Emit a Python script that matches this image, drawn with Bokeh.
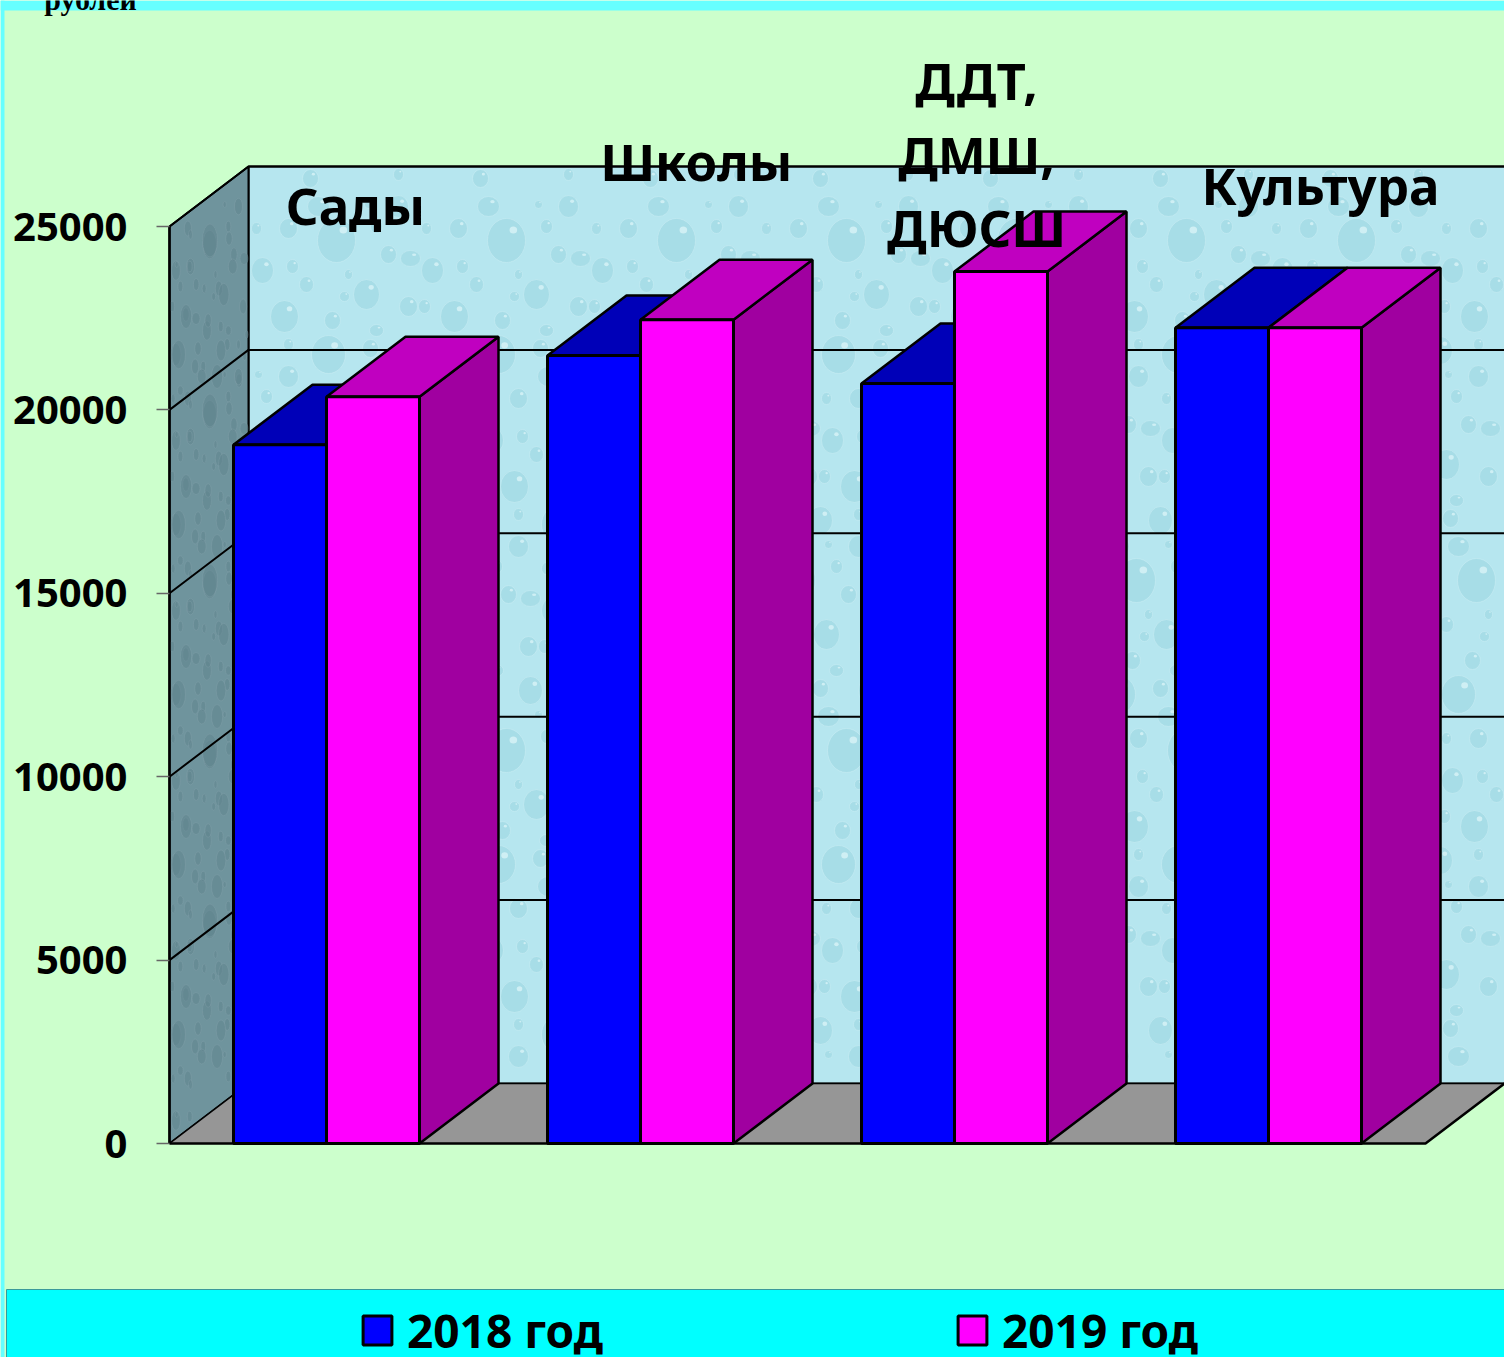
from bokeh.plotting import figure
from bokeh.embed import file_html
from bokeh.resources import INLINE
from bokeh.models import Range1d, LinearAxis, FixedTicker, Legend, LegendItem
from bokeh.core.properties import value

# ---- data ----
categories = ["Сады", "Школы", "ДДТ,\nДМШ,\nДЮСШ", "Культура"]
series_names = ["2018 год", "2019 год"]
values_2018 = [19050, 21480, 20720, 22240]
values_2019 = [20360, 22460, 23770, 22240]
tick_values = [0, 5000, 10000, 15000, 20000, 25000]

# ---- layout (picture pixels) ----
W, H = 1504, 1357
Y0 = 1143            # pixel of value 0 at the front plane
PX_PER_UNIT = (1143 - 226) / 25000
AX_X = 169
DX, DY_PX = 79, 60
DY = DY_PX / PX_PER_UNIT
BAR_W = 93
BAR_START = 233
GROUP_STEP = 314
FONT = "Noto Sans"

def yv(py):
    return (Y0 - py) / PX_PER_UNIT

GREEN, CYAN, CYAN_TOP = "#ccffcc", "#00ffff", "#66ffff"
WALL, SIDE, FLOOR = "#b6e6ef", "#6f949d", "#969696"
COLORS = [("#0000ff", "#0000b8", "#0000a8"), ("#ff00ff", "#c000c0", "#a000a0")]

# repeating tile of the wallpaper's water drops: (x, y, w, h) in a 170 px tile
TILE = 170
DROPS = [(20, 18, 34, 38), (62, 12, 16, 18), (112, 14, 24, 28), (150, 40, 20, 22),
         (40, 62, 18, 20), (88, 74, 38, 44), (140, 88, 16, 18), (14, 104, 22, 26),
         (58, 118, 14, 16), (118, 128, 26, 30), (160, 140, 18, 20), (36, 150, 28, 32),
         (84, 154, 16, 18), (8, 62, 10, 12), (128, 60, 12, 14), (100, 108, 8, 10),
         (70, 40, 22, 20), (162, 92, 20, 16), (150, 8, 10, 12), (44, 100, 12, 14),
         (96, 130, 10, 10), (128, 164, 14, 12), (6, 140, 12, 14), (120, 38, 8, 8)]

p = figure(width=W, height=H, output_backend="svg", toolbar_location=None,
           x_range=Range1d(0, W), y_range=Range1d(yv(H), yv(0)),
           x_axis_location=None, y_axis_location=None, min_border=0,
           background_fill_color=GREEN, border_fill_color=GREEN, outline_line_color=None)
p.grid.visible = False

# page bands
p.quad(left=[0], right=[W], top=[yv(0)], bottom=[yv(10)], fill_color=CYAN_TOP, line_color=None)
p.quad(left=[0], right=[4], top=[yv(0)], bottom=[yv(H)], fill_color=CYAN_TOP, line_color=None)
p.quad(left=[6], right=[W + 5], top=[yv(1289)], bottom=[yv(H + 5)], fill_color=CYAN, line_color="#3a9a9a", line_width=1)

# back wall
vmax = max(tick_values)
wall_left, wall_top, wall_bot = AX_X + DX, Y0 - 917 - DY_PX, Y0 - DY_PX
p.quad(left=[wall_left], right=[W + 5], top=[vmax + DY], bottom=[DY],
       fill_color=WALL, line_color="black", line_width=2)
# wallpaper drops on the back wall (rows staggered)
dx, dy, dw, dh = [], [], [], []
for ty in range(6):
    for tx in range(-1, 8):
        for (x, y, w, h) in DROPS:
            px = wall_left + tx * TILE + x + (ty % 3) * 60
            py = wall_top + ty * TILE + y
            if px - w / 2 > wall_left and px + w / 2 < W and py - h / 2 > wall_top and py + h / 2 < wall_bot:
                dx.append(px); dy.append(yv(py)); dw.append(w); dh.append(h)
p.ellipse(dx, dy, width=dw, height=[h / PX_PER_UNIT for h in dh], fill_color="#98d3df", fill_alpha=0.5, line_color="#cdf0f5", line_alpha=0.5, line_width=1)
p.ellipse([x + w * 0.18 for x, w in zip(dx, dw)], [y + h * 0.24 / PX_PER_UNIT for y, h in zip(dy, dh)],
          width=[w * 0.2 for w in dw], height=[h * 0.16 / PX_PER_UNIT for h in dh],
          fill_color="#dff7fa", fill_alpha=0.7, line_color=None)

# side wall
p.patch([AX_X, AX_X + DX, AX_X + DX, AX_X], [0, DY, vmax + DY, vmax],
        fill_color=SIDE, line_color="black", line_width=2)
sx, sy, sw, sh = [], [], [], []
for ty in range(6):
    for (x, y, w, h) in DROPS:
        for shift in (0, 1):
            px = AX_X + (x * 0.46 + shift * 31) % DX
            py = wall_top + ty * TILE + y + shift * 60
            frac = (px - AX_X) / DX
            w2, h2 = w * 0.4, h * 0.75
            top_edge = wall_top + DY_PX * (1 - frac)
            bot_edge = wall_bot + DY_PX * (1 - frac)
            if AX_X + w2 / 2 < px < AX_X + DX - w2 / 2 and top_edge + h2 / 2 + 6 < py < bot_edge - h2 / 2 - 6:
                sx.append(px); sy.append(yv(py)); sw.append(w2); sh.append(h2)
p.ellipse(sx, sy, width=sw, height=[h / PX_PER_UNIT for h in sh], fill_color="#5f838d", fill_alpha=0.5, line_color="#8ba8b0", line_alpha=0.4, line_width=0.8)

# floor
floor_right = BAR_START + GROUP_STEP * 3 + 2 * BAR_W + 64
p.patch([AX_X, AX_X + DX, floor_right + DX, floor_right], [0, DY, DY, 0],
        fill_color=FLOOR, line_color=None)
p.line([AX_X, floor_right, floor_right + DX], [0, 0, DY], line_color="black", line_width=2.5)
p.line([AX_X, AX_X + DX], [0, DY], line_color="black", line_width=1.5)
# gridlines on walls
for t in tick_values[1:]:
    p.line([AX_X, AX_X + DX, W], [t, t + DY, t + DY], line_color="black", line_width=2)
p.line([AX_X + DX, W], [DY, DY], line_color="black", line_width=1.5)

# bars
front_renderers = []
for s, vals in enumerate([values_2018, values_2019]):
    front, top, side = COLORS[s]
    lefts = [BAR_START + GROUP_STEP * i + BAR_W * s for i in range(len(vals))]
    rights = [l + BAR_W for l in lefts]
    p.patches([[r, r + DX, r + DX, r] for r in rights],
              [[0, DY, v + DY, v] for v in vals],
              fill_color=side, line_color="black", line_width=2.5)
    p.patches([[l, l + DX, r + DX, r] for l, r in zip(lefts, rights)],
              [[v, v + DY, v + DY, v] for v in vals],
              fill_color=top, line_color="black", line_width=2.5)
    r = p.quad(left=lefts, right=rights, bottom=[0] * len(vals), top=vals,
               fill_color=front, line_color="black", line_width=3)
    front_renderers.append(r)

# y axis
ax = LinearAxis(ticker=FixedTicker(ticks=tick_values), fixed_location=AX_X, bounds=(0, vmax),
                axis_line_color="black", axis_line_width=2.5,
                major_tick_in=0, major_tick_out=13, major_tick_line_color="#666666",
                major_tick_line_width=1.5, minor_tick_line_color=None,
                major_label_standoff=29, major_label_text_font=FONT,
                major_label_text_font_size="40px", major_label_text_font_style="bold",
                major_label_text_color="black")
p.add_layout(ax, "left")

# category labels
label_x = [355, 696, 976, 1320]
label_base = [[204], [160], [79, 153, 226], [184]]
xs, ys, ts = [], [], []
for lx, bases, c in zip(label_x, label_base, categories):
    for b, line in zip(bases, c.split("\n")):
        xs.append(lx); ys.append(yv(b)); ts.append(line)
p.text(xs, ys, ts, text_font=value(FONT), text_font_size="51px", text_font_style="bold",
       text_align="center", text_baseline="alphabetic", text_color="black")

# clipped unit caption at the very top
p.text([90], [yv(-1)], ["рублей"], text_font=value("Liberation Serif"), text_font_size="30px",
       text_font_style="bold", text_align="center", text_baseline="alphabetic", text_color="black")

# legend
legend = Legend(items=[LegendItem(label=n, renderers=[r]) for n, r in zip(series_names, front_renderers)],
                orientation="horizontal", location=(359, -4),
                background_fill_alpha=0, border_line_color=None,
                glyph_width=36, glyph_height=36, label_standoff=12, spacing=351, padding=6, margin=0,
                label_text_font=FONT, label_text_font_size="46px", label_text_font_style="bold",
                label_height=50, label_text_color="black", label_text_baseline="middle")
p.add_layout(legend, "center")

open("out.html", "w").write(file_html(p, INLINE))
